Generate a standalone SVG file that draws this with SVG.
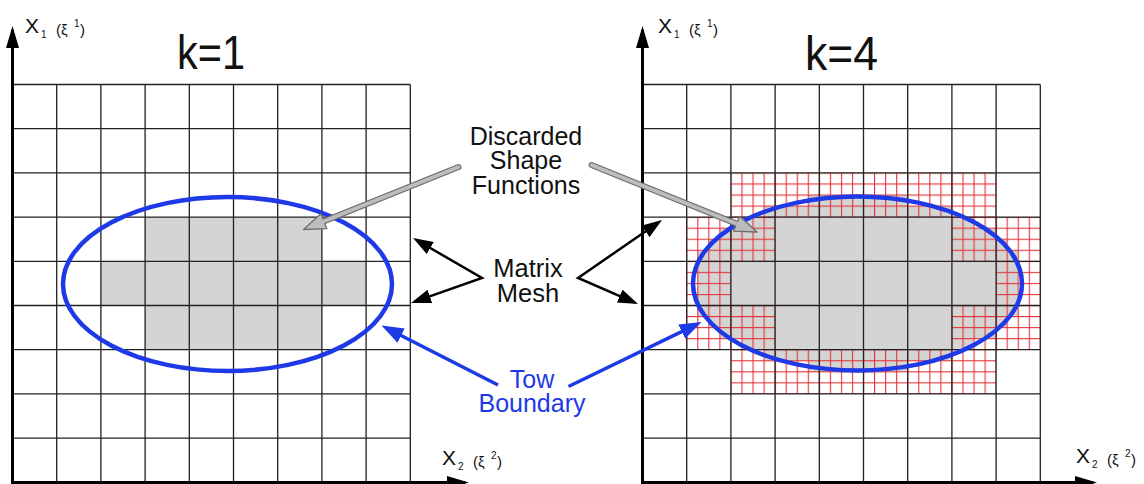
<svg xmlns="http://www.w3.org/2000/svg" xmlns:xlink="http://www.w3.org/1999/xlink" width="1144" height="484" viewBox="0 0 1144 484">
<style>
text{font-family:"Liberation Sans",Arial,Helvetica,sans-serif;fill:#111}
.big{font-size:49px}
.lbl{font-size:25px;text-anchor:middle}
.mm{font-size:25.5px}
.blue{fill:#1e3ae6}
.ax{font-size:21px}
.sb{font-size:10px}
.pr{font-size:15px}
.grid{fill:none;stroke:#222;stroke-width:1.3}
.cell{fill:#d4d4d4}
.tow{fill:none;stroke:#1e3ae6;stroke-width:4.5}
.axis{fill:none;stroke:#000;stroke-width:3;marker-end:url(#axhead)}
.blk{fill:none;stroke:#000;stroke-width:2.5;stroke-linejoin:miter;marker-start:url(#blkhead);marker-end:url(#blkhead)}
.bl{fill:none;stroke:#1e3ae6;stroke-width:3.5;marker-end:url(#bluehead)}
.gout{fill:none;stroke:#6e6e6e;stroke-width:6;stroke-linecap:round;marker-end:url(#grayhead)}
.gin{fill:none;stroke:#bdbdbd;stroke-width:3.6;stroke-linecap:round}
.mesh{fill:url(#fine)}
</style>
<defs>
<marker id="axhead" markerUnits="userSpaceOnUse" markerWidth="22" markerHeight="13" refX="18" refY="6.5" orient="auto"><path d="M0,0 L22,6.5 L0,13 z" fill="#000"/></marker>
<marker id="blkhead" markerUnits="userSpaceOnUse" markerWidth="20" markerHeight="14" refX="16" refY="7" orient="auto-start-reverse"><path d="M0,0 L20,7 L0,14 z" fill="#000"/></marker>
<marker id="bluehead" markerUnits="userSpaceOnUse" markerWidth="22" markerHeight="16" refX="16" refY="8" orient="auto"><path d="M0,0 L22,8 L0,16 z" fill="#1e3ae6"/></marker>
<marker id="grayhead" markerUnits="userSpaceOnUse" markerWidth="26" markerHeight="20" refX="11" refY="10" orient="auto"><path d="M2,2 L24,10 L2,18 z" fill="#bdbdbd" stroke="#6e6e6e" stroke-width="1.3" stroke-linejoin="round"/></marker>
<pattern id="fine" patternUnits="userSpaceOnUse" x="642" y="84" width="11.05" height="11.05"><rect x="0" y="0" width="1.1" height="11.05" fill="#e3343a"/><rect x="0" y="0" width="11.05" height="1.1" fill="#e3343a"/></pattern>
<path id="gridlines" d="M12.5,84.5 H410.3 M12.5,128.7 H410.3 M12.5,172.9 H410.3 M12.5,217.1 H410.3 M12.5,261.3 H410.3 M12.5,305.5 H410.3 M12.5,349.7 H410.3 M12.5,393.9 H410.3 M12.5,438.1 H410.3 M56.7,84.5 V482.5 M100.9,84.5 V482.5 M145.1,84.5 V482.5 M189.3,84.5 V482.5 M233.5,84.5 V482.5 M277.7,84.5 V482.5 M321.9,84.5 V482.5 M366.1,84.5 V482.5 M410.3,84.5 V482.5"/>
</defs>
<rect width="1144" height="484" fill="#fff"/>

<g id="panel-left">
<path class="cell" d="M145.1,217.1 H321.9 V261.3 H366.1 V305.5 H321.9 V349.7 H145.1 V305.5 H100.9 V261.3 H145.1 Z"/>
<use xlink:href="#gridlines" href="#gridlines" class="grid"/>
<ellipse class="tow" cx="227.5" cy="284" rx="164.5" ry="87"/>
<path class="axis" d="M12.5,483.5 V30"/>
<path class="axis" d="M11,482.5 H465"/>
<text class="big" x="177" y="68.5" textLength="68" lengthAdjust="spacingAndGlyphs">k=1</text>
<g id="label-x1-left">
<text class="ax" x="25" y="33">X</text>
<text class="sb" x="41" y="38">1</text>
<text class="pr" x="56" y="35">(ξ</text>
<text class="sb" x="74" y="27">1</text>
<text class="pr" x="80" y="35">)</text>
</g>
<g id="label-x2-left">
<text class="ax" x="442" y="465">X</text>
<text class="sb" x="458" y="470">2</text>
<text class="pr" x="473" y="467">(ξ</text>
<text class="sb" x="491" y="459">2</text>
<text class="pr" x="497" y="467">)</text>
</g>
</g>

<g id="panel-right">
<path class="cell" d="M808.25,195 H907.7 V206.05 H951.9 V217.1 H974 V228.15 H996.1 V239.2 H1007.15 V250.25 H1018.2 V316.55 H1007.15 V327.6 H996.1 V338.65 H974 V349.7 H951.9 V360.75 H907.7 V371.8 H808.25 V360.75 H764.05 V349.7 H741.95 V338.65 H719.85 V327.6 H708.8 V316.55 H697.75 V250.25 H708.8 V239.2 H719.85 V228.15 H741.95 V217.1 H764.05 V206.05 H808.25 Z"/>
<path class="cell" d="M775.1,217.1 H951.9 V261.3 H996.1 V305.5 H951.9 V349.7 H775.1 V305.5 H730.9 V261.3 H775.1 Z"/>
<path class="mesh" d="M730.9,172.9 H996.1 V217.1 H730.9 Z M686.7,217.1 H775.1 V261.3 H730.9 V305.5 H775.1 V349.7 H686.7 Z M951.9,217.1 H1040.3 V349.7 H951.9 V305.5 H996.1 V261.3 H951.9 Z M730.9,349.7 H996.1 V393.9 H730.9 Z"/>
<use xlink:href="#gridlines" href="#gridlines" class="grid" transform="translate(630,0)"/>
<ellipse class="tow" cx="857.5" cy="283.5" rx="164.5" ry="87"/>
<path class="axis" d="M642.5,483.5 V30"/>
<path class="axis" d="M641,482.5 H1093"/>
<text class="big" x="805" y="69.5" textLength="73" lengthAdjust="spacingAndGlyphs">k=4</text>
<g id="label-x1-right">
<text class="ax" x="658" y="33">X</text>
<text class="sb" x="674" y="38">1</text>
<text class="pr" x="689" y="35">(ξ</text>
<text class="sb" x="707" y="27">1</text>
<text class="pr" x="713" y="35">)</text>
</g>
<g id="label-x2-right">
<text class="ax" x="1076" y="463">X</text>
<text class="sb" x="1092" y="468">2</text>
<text class="pr" x="1107" y="465">(ξ</text>
<text class="sb" x="1125" y="457">2</text>
<text class="pr" x="1131" y="465">)</text>
</g>
</g>

<g id="label-discarded">
<text class="lbl" x="526" y="144.5">Discarded</text>
<text class="lbl" x="526" y="169">Shape</text>
<text class="lbl" x="526" y="193.5">Functions</text>
</g>
<g id="label-matrix">
<text class="lbl mm" x="528" y="277">Matrix</text>
<text class="lbl mm" x="528" y="301.5">Mesh</text>
</g>
<g id="label-tow">
<text class="lbl blue" x="532" y="388">Tow</text>
<text class="lbl blue" x="532" y="411.5">Boundary</text>
</g>

<g id="connectors">
<path class="gout" d="M458.5,167 L315.56,224.64"/>
<path class="gin" d="M458.5,167 L316.5,224.26"/>
<path class="gout" d="M591.5,165 L744.95,227.12"/>
<path class="gin" d="M591.5,165 L744,226.75"/>
<path class="blk" d="M416.46,240 L482,278 L414.77,301.67"/>
<path class="blk" d="M658.71,222.27 L578,278 L634.33,302.41"/>
<path class="bl" d="M498,385 L386.85,328.23"/>
<path class="bl" d="M568.5,386.5 L696.1,324.6"/>
</g>
</svg>
